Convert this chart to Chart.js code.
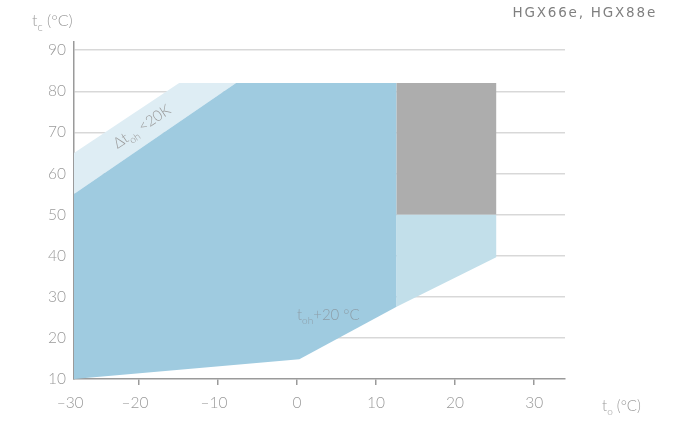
<!DOCTYPE html>
<html>
<head>
<meta charset="utf-8">
<script src="https://cdn.jsdelivr.net/npm/chart.js@4/dist/chart.umd.min.js"></script>
<style>
  html, body { margin: 0; padding: 0; background: #fff; }
  #wrap { width: 681px; height: 421px; position: relative; }
</style>
</head>
<body>
<div id="wrap"><canvas id="chart" width="681" height="421"></canvas></div>
<script>
// Evaporating temperature t0 (°C) on x, condensing temperature tc (°C) on y
const xTickValues = [-30, -20, -10, 0, 10, 20, 30];
const yTickValues = [10, 20, 30, 40, 50, 60, 70, 80, 90];

// Main application envelope
const mainT0 = [-30, 0.3, 12.6, 12.6, -7.7, -30];
const mainTc = [10, 14.8, 27.6, 82, 82, 55];
// Strip usable only with suction superheat below 20 K
const superheatT0 = [-30, -7.7, -14.9, -30];
const superheatTc = [55, 82, 82, 65];
// High evaporating temperatures, lower part
const highLowT0 = [12.6, 25.2, 25.2, 12.6];
const highLowTc = [27.6, 39.6, 50, 50];
// High evaporating temperatures, upper part
const highUpT0 = [12.6, 25.2, 25.2, 12.6];
const highUpTc = [50, 50, 82, 82];

// Annotation anchors (t0, tc)
const superheatLabelAt = [-19.6, 71.4];
const superheatLabelAngle = -34;
const toh20LabelAt = [0, 25.5];

const FONT = 'Lato, "Open Sans", sans-serif';
const TEXT_GREY = '#9a9a9a';

const pts = (xs, ys) => xs.map((x, i) => ({ x, y: ys[i] }));

// x axis whose first decade (-30 … -20) is drawn compressed
const SQUEEZE_FROM = -20, SQUEEZE = 0.82;
const warp = v => v >= SQUEEZE_FROM ? v : SQUEEZE_FROM + (v - SQUEEZE_FROM) * SQUEEZE;
const unwarp = w => w >= SQUEEZE_FROM ? w : SQUEEZE_FROM + (w - SQUEEZE_FROM) / SQUEEZE;
class CompressedLinearScale extends Chart.LinearScale {
  getPixelForValue(value) {
    if (value === null || value === undefined || isNaN(value)) return NaN;
    const a = warp(this.min), b = warp(this.max);
    return this.getPixelForDecimal((warp(value) - a) / (b - a));
  }
  getValueForPixel(pixel) {
    const a = warp(this.min), b = warp(this.max);
    return unwarp(a + this.getDecimalForPixel(pixel) * (b - a));
  }
}
CompressedLinearScale.id = 'compressedLinear';
CompressedLinearScale.defaults = Chart.LinearScale.defaults;
Chart.register(CompressedLinearScale);

function area(xs, ys, color, order) {
  return {
    data: pts(xs, ys),
    showLine: true,
    fill: 'shape',
    backgroundColor: color,
    borderColor: 'rgba(0,0,0,0)',
    borderWidth: 0,
    pointRadius: 0,
    pointHoverRadius: 0,
    order
  };
}

// Text made of normal and subscript runs
function drawRuns(ctx, x, y, runs, size, align) {
  const subSize = Math.round(size * 0.68);
  const widths = runs.map(([t, sub]) => {
    ctx.font = `300 ${sub ? subSize : size}px ${FONT}`;
    return ctx.measureText(t).width;
  });
  const total = widths.reduce((s, w) => s + w, 0);
  let cx = align === 'center' ? x - total / 2 : align === 'right' ? x - total : x;
  ctx.textAlign = 'left';
  ctx.textBaseline = 'middle';
  runs.forEach(([t, sub], i) => {
    ctx.font = `300 ${sub ? subSize : size}px ${FONT}`;
    ctx.fillText(t, cx, sub ? y + size * 0.38 : y);
    cx += widths[i];
  });
}

const labelsPlugin = {
  id: 'envelopeLabels',
  afterDraw(chart) {
    const { ctx, scales: { x, y } } = chart;
    ctx.save();
    ctx.fillStyle = TEXT_GREY;

    // axis titles
    drawRuns(ctx, 32, 21, [['t', 0], ['c', 1], [' (°C)', 0]], 16, 'left');
    drawRuns(ctx, 602, 406, [['t', 0], ['o', 1], [' (°C)', 0]], 15, 'left');

    // model names
    ctx.font = `13.5px "DejaVu Sans", sans-serif`;
    ctx.letterSpacing = '1.8px';
    ctx.fillStyle = '#7f7f7f';
    ctx.textAlign = 'right';
    ctx.textBaseline = 'middle';
    ctx.fillText('HGX66e, HGX88e', 657, 13);
    ctx.letterSpacing = '0px';

    // superheat strip label
    ctx.fillStyle = TEXT_GREY;
    ctx.save();
    ctx.translate(x.getPixelForValue(superheatLabelAt[0]), y.getPixelForValue(superheatLabelAt[1]));
    ctx.rotate(superheatLabelAngle * Math.PI / 180);
    drawRuns(ctx, 0, 0, [['Δt', 0], ['oh', 1], [' <20K', 0]], 15, 'center');
    ctx.restore();

    // superheat line label
    ctx.fillStyle = '#8d9ea8';
    drawRuns(ctx, x.getPixelForValue(toh20LabelAt[0]), y.getPixelForValue(toh20LabelAt[1]),
      [['t', 0], ['oh', 1], ['+20 °C', 0]], 15, 'left');
    ctx.restore();
  }
};

new Chart(document.getElementById('chart'), {
  type: 'scatter',
  data: {
    datasets: [
      area(superheatT0, superheatTc, '#deedf4', 4),
      area(mainT0, mainTc, '#9fcbe0', 3),
      area(highLowT0, highLowTc, '#c2dfea', 2),
      area(highUpT0, highUpTc, '#adadad', 1)
    ]
  },
  options: {
    responsive: false,
    animation: false,
    events: [],
    layout: { padding: { top: 42, right: 116, bottom: 0, left: 0 } },
    plugins: { legend: { display: false }, tooltip: { enabled: false }, title: { display: false } },
    scales: {
      x: {
        type: 'compressedLinear',
        min: -30,
        max: 33.9,
        afterBuildTicks: s => { s.ticks = xTickValues.map(v => ({ value: v })); },
        afterFit: s => { s.height = 42; },
        grid: {
          drawOnChartArea: false,
          drawTicks: true,
          tickLength: 6,
          lineWidth: 1.5,
          color: c => (c.tick && c.tick.value === -30) ? 'rgba(0,0,0,0)' : '#9a9a9a'
        },
        border: { display: true, color: '#9a9a9a', width: 1.5 },
        ticks: {
          padding: 9,
          color: TEXT_GREY,
          autoSkip: false,
          maxRotation: 0,
          font: { family: FONT, size: 15.5, weight: '300' },
          callback: v => v < 0 ? '\u2013' + Math.abs(v) + '\u2002' : String(v)
        }
      },
      y: {
        type: 'linear',
        min: 10,
        max: 92,
        z: 1,
        afterBuildTicks: s => { s.ticks = yTickValues.map(v => ({ value: v })); },
        afterFit: s => { s.width = 74; },
        grid: {
          drawTicks: false,
          lineWidth: 1.5,
          color: c => (c.tick && c.tick.value === 10) ? 'rgba(0,0,0,0)' : 'rgba(212,212,212,0.9)'
        },
        border: { display: true, color: '#9a9a9a', width: 1.5 },
        ticks: {
          padding: 8,
          color: TEXT_GREY,
          font: { family: FONT, size: 15.5, weight: '300' }
        }
      }
    }
  },
  plugins: [labelsPlugin]
});
</script>
</body>
</html>
